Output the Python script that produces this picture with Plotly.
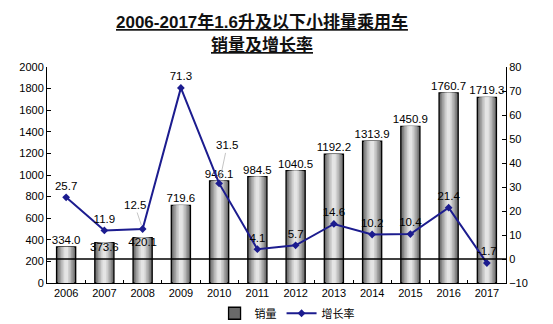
import plotly.graph_objects as go

years = ["2006", "2007", "2008", "2009", "2010", "2011", "2012", "2013", "2014", "2015", "2016", "2017"]
sales = [334.0, 373.6, 420.1, 719.6, 946.1, 984.5, 1040.5, 1192.2, 1313.9, 1450.9, 1760.7, 1719.3]
growth = [25.7, 11.9, 12.5, 71.3, 31.5, 4.1, 5.7, 14.6, 10.2, 10.4, 21.4, -1.7]

sales_label_pos = ["top center", "bottom center", "bottom center"] + ["top center"] * 9
growth_label_pos = ["top center"] * 12

FONT = "Liberation Sans, Arial, Noto Sans CJK SC, sans-serif"
LINE_COLOR = "#1c1c8f"

fig = go.Figure()

# layered bars give a cylindrical grey shading: dark edge to light core
layers = [
    (0.50, "#6a6a6a", 1.3),
    (0.42, "#858585", 0),
    (0.34, "#a0a0a0", 0),
    (0.26, "#bababa", 0),
    (0.18, "#d0d0d0", 0),
    (0.10, "#e4e4e4", 0),
]
for i, (w, col, lw) in enumerate(layers):
    fig.add_trace(go.Bar(
        x=years, y=sales, width=w,
        marker=dict(color=col, line=dict(color="black", width=lw)),
        name="销量", showlegend=(i == 0), legendgroup="sales",
        hoverinfo="skip" if i else None,
    ))

# value labels for the bars
fig.add_trace(go.Scatter(
    x=years, y=sales, mode="text",
    text=[f"{v:.1f}" for v in sales], textposition=sales_label_pos,
    textfont=dict(family=FONT, size=11.5, color="black"),
    showlegend=False, hoverinfo="skip", cliponaxis=False,
))

# growth rate line on the secondary axis; two labels are lifted with leader lines
LEADERS = {2: (-8, -24), 4: (8, -38)}
text_growth = ["" if i in LEADERS else f"{v:.1f}" for i, v in enumerate(growth)]
fig.add_trace(go.Scatter(
    x=years, y=growth, yaxis="y2", mode="lines+markers+text",
    line=dict(color=LINE_COLOR, width=2),
    marker=dict(symbol="diamond", size=6, color=LINE_COLOR),
    text=text_growth, textposition=growth_label_pos,
    textfont=dict(family=FONT, size=11.5, color="black"),
    name="增长率", cliponaxis=False,
))

for idx, (ax, ay) in LEADERS.items():
    fig.add_annotation(
        x=idx, y=growth[idx], xref="x", yref="y2",
        text=f"{growth[idx]:.1f}",
        showarrow=True, arrowhead=0, arrowwidth=0.7, arrowcolor="#aaaaaa",
        ax=ax, ay=ay, font=dict(family=FONT, size=11.5, color="black"),
        standoff=4,
    )

# zero reference line for the growth axis
fig.add_shape(type="line", xref="paper", x0=0, x1=1, yref="y2", y0=0, y1=0,
              line=dict(color="black", width=1.3), layer="above")

# two-line underlined title
TITLE_FONT = dict(family=FONT, size=17, color="#111111")
for text, ypx in [("<b><u>2006-2017年1.6升及以下小排量乘用车</u></b>", 22),
                  ("<b><u>销量及增长率</u></b>", 45)]:
    fig.add_annotation(
        text=text, xref="paper", yref="paper", x=0.468, y=1 + (67 - ypx) / 216,
        xanchor="center", yanchor="middle", showarrow=False, font=TITLE_FONT,
    )

fig.update_layout(
    width=553, height=324,
    margin=dict(l=47, r=47, t=67, b=41, autoexpand=False),
    paper_bgcolor="white", plot_bgcolor="white",
    barmode="overlay",
    font=dict(family=FONT, size=11, color="black"),
    xaxis=dict(
        type="category", range=[-0.5, 11.5], showline=True, linecolor="black", linewidth=1,
        ticks="inside", tickson="boundaries", ticklen=3, tickcolor="black",
        showgrid=False, tickfont=dict(size=11), tickangle=0,
    ),
    yaxis=dict(
        range=[0, 2000], dtick=200, showline=True, linecolor="black", linewidth=1,
        ticks="inside", ticklen=4, tickcolor="black", showgrid=False, zeroline=False,
        tickfont=dict(size=11),
    ),
    yaxis2=dict(
        range=[-10, 80], dtick=10, overlaying="y", side="right",
        showline=True, linecolor="black", linewidth=1,
        ticks="inside", ticklen=4, tickcolor="black", showgrid=False, zeroline=False,
        tickfont=dict(size=11),
    ),
    legend=dict(
        orientation="h", x=0.523, xanchor="center", y=-0.14, yanchor="middle",
        font=dict(family=FONT, size=11), traceorder="normal",
        itemwidth=30, bgcolor="rgba(0,0,0,0)",
    ),
    showlegend=True,
)

fig.write_html("out.html")
